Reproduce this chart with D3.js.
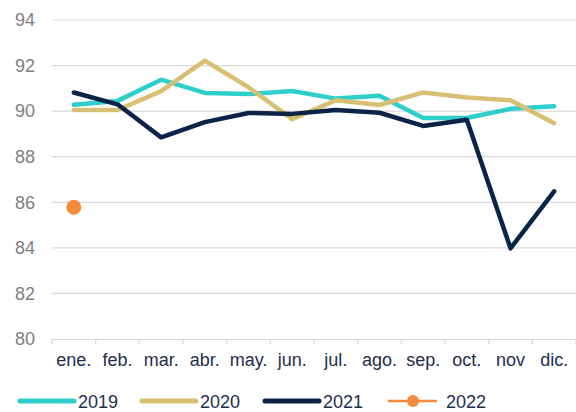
<!DOCTYPE html>
<html>
<head>
<meta charset="UTF-8">
<script src="https://d3js.org/d3.v7.min.js"></script>
<style>
  body { margin: 0; background: #fff; }
  svg text { font-family: "Liberation Sans", Arial, sans-serif; }
</style>
</head>
<body>
<div id="chart"></div>
<script>
var months = ["ene.", "feb.", "mar.", "abr.", "may.", "jun.", "jul.", "ago.", "sep.", "oct.", "nov", "dic."];
var yTicks = [80, 82, 84, 86, 88, 90, 92, 94];

var v2019 = [90.28, 90.45, 91.38, 90.8, 90.75, 90.88, 90.55, 90.68, 89.7, 89.7, 90.1, 90.22];
var v2020 = [90.05, 90.05, 90.88, 92.22, 91.05, 89.65, 90.48, 90.27, 90.82, 90.6, 90.48, 89.47];
var v2021 = [90.82, 90.3, 88.85, 89.52, 89.92, 89.88, 90.05, 89.93, 89.35, 89.62, 83.98, 86.48];
var v2022 = [85.78];

var seriesNames = ["2019", "2020", "2021", "2022"];
var colors = ["#2ecfcb", "#d9bf76", "#0c2348", "#f68b3b"];

var W = 576, H = 412;
var margin = {top: 20, right: 0, bottom: 73, left: 52};

var svg = d3.select("#chart").append("svg")
  .attr("width", W).attr("height", H);

var x = d3.scaleBand()
  .domain(months)
  .range([margin.left, W - margin.right])
  .padding(0);

var y = d3.scaleLinear()
  .domain([80, 94])
  .range([H - margin.bottom, margin.top]);

// gridlines
svg.append("g")
  .selectAll("line")
  .data(yTicks.filter(function(d) { return d > 80; }))
  .enter().append("line")
    .attr("x1", margin.left).attr("x2", W - margin.right)
    .attr("y1", function(d) { return y(d); })
    .attr("y2", function(d) { return y(d); })
    .attr("stroke", "#d9d9d9").attr("stroke-width", 1.2);

// y axis labels
var yAxis = svg.append("g")
  .attr("transform", "translate(" + margin.left + ",0)")
  .call(d3.axisLeft(y).tickValues(yTicks).tickSize(0).tickPadding(17));
yAxis.select(".domain").remove();
yAxis.selectAll("text")
  .attr("fill", "#7f7f7f")
  .style("font-size", "18px");

// x axis
var xAxis = svg.append("g")
  .attr("transform", "translate(0," + y(80) + ")")
  .call(d3.axisBottom(x).tickSize(0).tickPadding(14));
xAxis.select(".domain").attr("stroke", "#d9d9d9").attr("stroke-width", 1.2);
xAxis.selectAll("text")
  .attr("fill", "#1f2d4e")
  .style("font-size", "18px");

// tick marks at band edges
var edges = months.map(function(m) { return x(m); }).concat([x(months[11]) + x.bandwidth()]);
svg.append("g")
  .selectAll("line")
  .data(edges)
  .enter().append("line")
    .attr("x1", function(d) { return d; }).attr("x2", function(d) { return d; })
    .attr("y1", y(80)).attr("y2", y(80) + 5)
    .attr("stroke", "#d9d9d9").attr("stroke-width", 1.2);

var cx = function(d, i) { return x(months[i]) + x.bandwidth() / 2; };

var line = d3.line()
  .x(cx)
  .y(function(d) { return y(d); });

[v2019, v2020, v2021].forEach(function(vals, k) {
  svg.append("path")
    .datum(vals)
    .attr("d", line)
    .attr("fill", "none")
    .attr("stroke", colors[k])
    .attr("stroke-width", 4.5)
    .attr("stroke-linejoin", "round")
    .attr("stroke-linecap", "round");
});

svg.append("g")
  .selectAll("circle")
  .data(v2022)
  .enter().append("circle")
    .attr("cx", cx)
    .attr("cy", function(d) { return y(d); })
    .attr("r", 7.5)
    .attr("fill", colors[3]);

// legend
var legendX = [20, 142, 265, 388];
var legendY = 401;
var legend = svg.append("g");
seriesNames.forEach(function(name, k) {
  var g = legend.append("g").attr("transform", "translate(" + legendX[k] + "," + legendY + ")");
  if (k < 3) {
    g.append("line")
      .attr("x1", 0).attr("x2", 54)
      .attr("stroke", colors[k]).attr("stroke-width", 5)
      .attr("stroke-linecap", "round");
  } else {
    g.append("line")
      .attr("x1", 0).attr("x2", 49)
      .attr("stroke", colors[k]).attr("stroke-width", 2.5);
    g.append("circle").attr("cx", 25).attr("r", 6).attr("fill", colors[k]);
  }
  g.append("text").attr("x", 58).attr("y", 6.5).text(name)
    .attr("fill", "#1f2d4e").style("font-size", "18px");
});
</script>
</body>
</html>
